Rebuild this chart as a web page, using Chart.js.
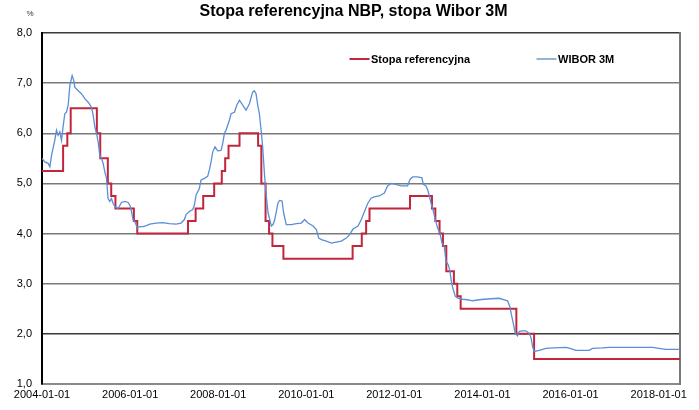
<!DOCTYPE html>
<html><head><meta charset="utf-8">
<script src="https://cdn.jsdelivr.net/npm/chart.js@4.4.1/dist/chart.umd.min.js"></script>
<style>html,body{margin:0;padding:0;background:#fff}</style>
</head><body>
<canvas id="c" width="699" height="410"></canvas>
<script>
const titleText = 'Stopa referencyjna NBP, stopa Wibor 3M';
const unitLabel = '%';
const seriesLabels = ['Stopa referencyjna', 'WIBOR 3M'];
const xStart = '2004-01-01';
const xEnd = '2018-06-27';
const xTickLabels = ['2004-01-01','2006-01-01','2008-01-01','2010-01-01','2012-01-01','2014-01-01','2016-01-01','2018-01-01'];
const yMin = 1, yMax = 8, yStep = 1;

const refDates = ['2004-01-01','2004-06-24','2004-07-29','2004-08-26','2005-03-31','2005-04-28','2005-06-30','2005-07-28','2005-09-01','2006-02-01','2006-03-01','2007-04-26','2007-06-28','2007-08-30','2007-11-29','2008-01-31','2008-02-28','2008-03-27','2008-06-26','2008-11-27','2008-12-24','2009-01-28','2009-02-26','2009-03-26','2009-06-25','2011-01-20','2011-04-06','2011-05-12','2011-06-09','2012-05-10','2012-11-08','2012-12-06','2013-01-10','2013-02-07','2013-03-07','2013-05-09','2013-06-06','2013-07-04','2014-10-09','2015-03-05','2018-06-27'];
const refValues = [5.25,5.75,6.00,6.50,6.00,5.50,5.00,4.75,4.50,4.25,4.00,4.25,4.50,4.75,5.00,5.25,5.50,5.75,6.00,5.75,5.00,4.25,4.00,3.75,3.50,3.75,4.00,4.25,4.50,4.75,4.50,4.25,4.00,3.75,3.25,3.00,2.75,2.50,2.00,1.50,1.50];

const wiborDates = ['2004-01-02','2004-01-24','2004-02-21','2004-03-06','2004-03-20','2004-04-16','2004-04-30','2004-05-14','2004-05-28','2004-06-11','2004-06-24','2004-07-08','2004-07-22','2004-08-05','2004-08-19','2004-09-07','2004-09-21','2004-09-29','2004-10-27','2004-11-23','2004-12-21','2005-01-18','2005-02-14','2005-02-28','2005-03-14','2005-03-28','2005-04-11','2005-04-24','2005-05-08','2005-05-22','2005-06-05','2005-06-19','2005-07-02','2005-07-16','2005-07-30','2005-08-13','2005-08-27','2005-09-23','2005-10-21','2005-11-18','2005-12-15','2006-01-03','2006-01-12','2006-01-26','2006-02-08','2006-03-03','2006-03-22','2006-04-19','2006-05-16','2006-06-13','2006-08-04','2006-09-28','2006-11-22','2007-01-17','2007-02-27','2007-03-27','2007-04-10','2007-05-07','2007-06-04','2007-06-18','2007-07-02','2007-07-29','2007-08-12','2007-09-09','2007-10-06','2007-10-20','2007-11-03','2007-11-17','2007-12-06','2007-12-28','2008-01-25','2008-02-08','2008-02-22','2008-03-06','2008-04-03','2008-04-17','2008-05-15','2008-06-03','2008-06-25','2008-07-23','2008-08-19','2008-09-16','2008-10-13','2008-10-27','2008-11-10','2008-11-24','2008-12-08','2008-12-22','2009-01-04','2009-01-20','2009-02-03','2009-02-18','2009-03-17','2009-03-31','2009-04-14','2009-04-28','2009-05-11','2009-05-25','2009-06-14','2009-06-27','2009-07-19','2009-08-30','2009-10-10','2009-11-21','2009-12-18','2010-01-15','2010-02-26','2010-03-25','2010-04-14','2010-05-06','2010-06-16','2010-07-28','2010-09-07','2010-10-18','2010-11-29','2010-12-26','2011-01-23','2011-03-06','2011-04-02','2011-04-30','2011-05-27','2011-06-24','2011-07-19','2011-08-29','2011-10-10','2011-11-06','2011-12-04','2012-01-14','2012-02-25','2012-04-20','2012-05-10','2012-06-01','2012-07-12','2012-08-17','2012-08-28','2012-09-19','2012-10-03','2012-10-17','2012-10-31','2012-11-19','2012-12-06','2012-12-25','2013-01-13','2013-01-30','2013-02-18','2013-03-04','2013-03-23','2013-04-06','2013-04-20','2013-05-04','2013-05-20','2013-06-09','2013-07-20','2013-08-30','2013-10-11','2013-12-05','2014-01-16','2014-03-12','2014-05-20','2014-07-01','2014-07-28','2014-08-16','2014-09-02','2014-09-16','2014-09-30','2014-10-19','2014-11-02','2014-11-29','2014-12-27','2015-01-24','2015-02-09','2015-02-20','2015-03-06','2015-04-16','2015-06-11','2015-08-15','2015-11-24','2015-12-27','2016-02-15','2016-06-04','2016-07-01','2016-09-22','2016-11-17','2017-11-11','2017-12-09','2018-03-02','2018-06-27'];
const wiborValues = [5.50,5.43,5.40,5.33,5.56,5.86,6.06,5.96,6.03,5.86,6.13,6.39,6.42,6.56,6.95,7.15,7.05,6.92,6.85,6.79,6.69,6.62,6.52,6.36,6.13,6.00,5.83,5.56,5.50,5.40,5.23,5.10,4.70,4.64,4.70,4.60,4.54,4.50,4.62,4.64,4.62,4.54,4.44,4.27,4.24,4.11,4.14,4.14,4.16,4.19,4.21,4.22,4.20,4.19,4.21,4.28,4.38,4.44,4.48,4.57,4.77,4.90,5.07,5.10,5.14,5.27,5.43,5.63,5.73,5.65,5.66,5.80,6.00,6.06,6.26,6.39,6.42,6.56,6.66,6.56,6.46,6.59,6.82,6.85,6.79,6.56,6.39,6.06,5.73,5.15,4.75,4.41,4.15,4.18,4.28,4.45,4.61,4.66,4.65,4.41,4.18,4.18,4.20,4.21,4.28,4.21,4.15,4.08,3.91,3.88,3.85,3.81,3.83,3.85,3.91,3.98,4.09,4.15,4.28,4.45,4.61,4.71,4.73,4.75,4.81,4.95,5.00,4.98,4.95,4.95,5.08,5.13,5.13,5.11,4.98,4.95,4.88,4.75,4.61,4.45,4.28,4.11,4.01,3.81,3.75,3.45,3.38,3.25,3.01,2.88,2.75,2.71,2.69,2.68,2.66,2.68,2.69,2.70,2.71,2.68,2.66,2.54,2.34,2.18,2.01,1.96,2.05,2.06,2.06,2.01,1.91,1.75,1.65,1.67,1.71,1.72,1.73,1.71,1.67,1.67,1.71,1.72,1.73,1.73,1.72,1.69,1.69];

const RED = '#C0273D', BLUE = '#5B8ED6', BLUE_LEGEND = '#95B3D7';
const t = d => Date.parse(d);
const toPoints = (ds, vs) => ds.map((d, i) => ({x: t(d), y: vs[i]}));

Chart.defaults.font.family = "'Liberation Sans', Arial, sans-serif";
Chart.defaults.color = '#000';

const decor = {
  id: 'decor',
  afterDraw(chart) {
    const ctx = chart.ctx, ca = chart.chartArea;
    ctx.save();
    ctx.fillStyle = '#333';
    ctx.font = "8px 'Liberation Sans', Arial, sans-serif";
    ctx.textAlign = 'center';
    ctx.textBaseline = 'middle';
    ctx.fillText(unitLabel, ca.left - 12, 14);
    const offs = [307.5, 494.5];
    const y = ca.top + 26;
    ctx.font = "bold 11px 'Liberation Sans', Arial, sans-serif";
    ctx.textAlign = 'left';
    chart.data.datasets.forEach((ds, i) => {
      const x = ca.left + offs[i];
      ctx.strokeStyle = ds.legendColor;
      ctx.lineWidth = 2;
      ctx.beginPath(); ctx.moveTo(x, y); ctx.lineTo(x + 20, y); ctx.stroke();
      ctx.fillStyle = '#000';
      ctx.fillText(ds.label, x + 21.5, y + 0.5);
    });
    ctx.restore();
  }
};

new Chart(document.getElementById('c'), {
  type: 'line',
  data: {
    datasets: [
      { label: seriesLabels[0], data: toPoints(refDates, refValues), borderColor: RED, legendColor: RED,
        borderWidth: 2, stepped: true, pointRadius: 0, fill: false, order: 2 },
      { label: seriesLabels[1], data: toPoints(wiborDates, wiborValues), borderColor: BLUE, legendColor: BLUE_LEGEND,
        borderWidth: 1.3, pointRadius: 0, fill: false, tension: 0, order: 1 }
    ]
  },
  options: {
    responsive: false,
    animation: false,
    layout: { padding: { left: 8, right: 0, top: 0, bottom: 0 } },
    plugins: {
      legend: { display: false },
      tooltip: { enabled: false },
      title: { display: true, text: titleText, color: '#000',
        font: { size: 16, weight: 'bold' }, padding: { top: 2, bottom: 11.8 } }
    },
    scales: {
      x: {
        type: 'linear', min: t(xStart), max: t(xEnd),
        afterBuildTicks(scale) { scale.ticks = xTickLabels.map(d => ({ value: t(d) })); },
        afterFit(scale) { scale.height = 26; },
        grid: { display: false, drawTicks: false },
        border: { display: true, color: '#8a8a8a', width: 2 },
        ticks: { autoSkip: false, maxRotation: 0, padding: 4, font: { size: 11 }, color: '#000',
          callback: v => new Date(v).toISOString().slice(0, 10) }
      },
      y: {
        min: yMin, max: yMax,
        afterFit(scale) { scale.width = 34; },
        grid: { drawTicks: false, lineWidth: 1.5,
          color: c => (c.tick && (c.tick.value === 8 || c.tick.value === 2)) ? '#3a3a3a' : '#7a7a7a' },
        border: { display: true, color: '#000', width: 2 },
        ticks: { stepSize: yStep, padding: 10, font: { size: 11 }, color: '#000',
          callback: v => v.toFixed(1).replace('.', ',') }
      },
      y2: {
        position: 'right', min: yMin, max: yMax,
        afterFit(scale) { scale.width = 19; },
        grid: { display: false, drawTicks: false },
        border: { display: true, color: '#7a7a7a', width: 2 },
        ticks: { display: false }
      }
    }
  },
  plugins: [decor]
});
</script>
</body></html>
